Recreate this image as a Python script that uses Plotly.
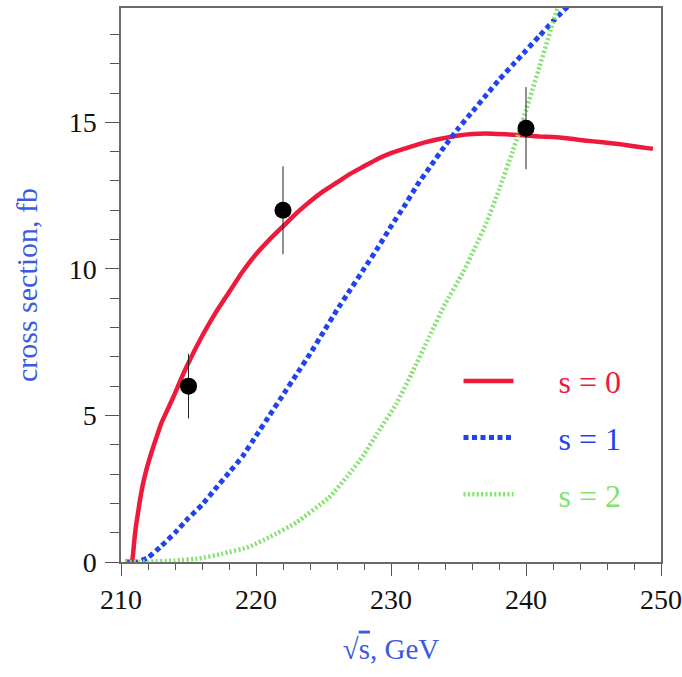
import plotly.graph_objects as go

# s = 0 curve
x_s0 = [210.3, 210.8, 210.9, 211.0, 211.1, 211.2, 211.3, 211.4, 211.6, 211.8, 212.0, 212.3, 212.7,
        213.0, 213.5, 214.0, 214.5, 215.0, 216.0, 217.0, 218.0, 219.0, 220.0, 221.0, 222.0, 223.0,
        224.0, 225.0, 226.0, 227.0, 228.0, 229.0, 230.0, 231.0, 232.0, 233.0, 234.0, 235.0, 236.0,
        237.0, 238.0, 239.0, 240.0, 241.0, 242.0, 243.0, 244.0, 245.0, 246.0, 247.0, 248.0, 249.0, 249.4]
y_s0 = [0.0, 0.0, 0.3, 0.8, 1.2, 1.5, 1.8, 2.1, 2.6, 3.0, 3.35, 3.8, 4.35,
        4.75, 5.25, 5.75, 6.3, 6.8, 7.7, 8.5, 9.2, 9.9, 10.5, 11.0, 11.45, 11.9,
        12.3, 12.65, 12.95, 13.25, 13.5, 13.75, 13.95, 14.1, 14.25, 14.37, 14.47, 14.55, 14.6,
        14.62, 14.6, 14.58, 14.55, 14.52, 14.5, 14.46, 14.4, 14.35, 14.3, 14.25, 14.18, 14.12, 14.1]

# s = 1 curve
x_s1 = [210.3, 211.2, 212.0, 213.0, 214.0, 215.0, 216.0, 217.0, 218.0, 219.0, 220.0, 221.0, 222.0,
        223.0, 224.0, 225.0, 226.0, 227.0, 228.0, 229.0, 230.0, 231.0, 232.0, 233.0, 234.0, 235.0,
        236.0, 237.0, 238.0, 239.0, 240.0, 241.0, 242.0, 243.2]
y_s1 = [0.0, 0.0, 0.15, 0.55, 1.0, 1.5, 1.95, 2.5, 3.05, 3.6, 4.3, 5.0, 5.7,
        6.4, 7.1, 7.85, 8.6, 9.3, 10.0, 10.7, 11.45, 12.15, 12.9, 13.55, 14.2, 14.8,
        15.35, 15.9, 16.45, 16.95, 17.45, 17.95, 18.45, 19.0]

# s = 2 curve
x_s2 = [210.3, 212.0, 214.0, 215.8, 217.5, 219.5, 221.0, 223.0, 225.4, 226.9, 227.9, 229.0, 230.4,
        231.5, 232.85, 234.0, 235.3, 236.2, 237.05, 238.0, 239.0, 240.0, 241.0, 242.0, 242.4]
y_s2 = [0.0, 0.01, 0.05, 0.12, 0.28, 0.52, 0.85, 1.35, 2.2, 3.0, 3.6, 4.4, 5.4,
        6.4, 7.7, 8.8, 9.85, 10.7, 11.55, 12.7, 14.0, 15.4, 16.9, 18.4, 19.0]

# data points
x_data = [215.0, 222.0, 240.0]
y_data = [6.0, 12.0, 14.8]
err_data = [1.1, 1.5, 1.4]

x_ticks = [210, 220, 230, 240, 250]
y_ticks = [0, 5, 10, 15]

RED = "#ee1a3c"
BLUE = "#1f44ee"
GREEN = "#7fe36c"
TITLE_BLUE = "#3a5be0"
SERIF = "Liberation Serif, Times New Roman, serif"
SP = "\u00a0" * 5

fig = go.Figure()
fig.add_trace(go.Scatter(x=x_s0, y=y_s0, mode="lines",
                         line=dict(color=RED, width=4.5, shape="spline", smoothing=0.4),
                         name=SP + "<span style='color:%s'>s = 0</span>" % RED, legendgroup="a"))
fig.add_trace(go.Scatter(x=x_s1, y=y_s1, mode="lines",
                         line=dict(color=BLUE, width=5, dash="5px,3.5px", shape="spline", smoothing=0.4),
                         name=SP + "<span style='color:%s'>s = 1</span>" % BLUE, legendgroup="b"))
fig.add_trace(go.Scatter(x=x_s2, y=y_s2, mode="lines",
                         line=dict(color=GREEN, width=4.5, dash="2px,2.4px", shape="spline", smoothing=0.4),
                         name=SP + "<span style='color:%s'>s = 2</span>" % GREEN, legendgroup="c"))
fig.add_trace(go.Scatter(x=x_data, y=y_data, mode="markers", showlegend=False,
                         marker=dict(color="black", size=17),
                         error_y=dict(type="data", array=err_data, color="#222", thickness=1, width=0)))

axis_common = dict(showgrid=False, zeroline=False, showline=True, linecolor="#6a6a6a", linewidth=1.5,
                   mirror=True, ticks="outside", tickcolor="#555", tickwidth=1.2,
                   tickfont=dict(family=SERIF, size=28, color="#111"))

fig.update_xaxes(range=[210, 250], tickvals=x_ticks, ticklen=12,
                 minor=dict(dtick=2, ticks="outside", ticklen=6, tickcolor="#555", tickwidth=1.2),
                 title=dict(text="√<span style='text-decoration:overline'>s</span>, GeV",
                            font=dict(family=SERIF, size=29, color=TITLE_BLUE), standoff=24),
                 **axis_common)
fig.update_yaxes(range=[0, 18.9], tickvals=y_ticks, ticklen=14, ticklabelstandoff=3,
                 minor=dict(dtick=1, ticks="outside", ticklen=9, tickcolor="#555", tickwidth=1.2),
                 title=dict(text="cross section, fb",
                            font=dict(family=SERIF, size=30, color=TITLE_BLUE), standoff=22),
                 **axis_common)

fig.update_layout(
    width=682, height=677,
    margin=dict(l=121, r=21, t=8, b=115, autoexpand=False),
    paper_bgcolor="white", plot_bgcolor="white",
    legend=dict(x=0.625, y=0.376, xanchor="left", yanchor="top", bgcolor="rgba(0,0,0,0)",
                font=dict(family=SERIF, size=32), traceorder="grouped", tracegroupgap=12,
                itemwidth=50),
    showlegend=True,
)

fig.write_html("out.html", config={"displayModeBar": False},
               post_script="document.body.style.margin='0';")
